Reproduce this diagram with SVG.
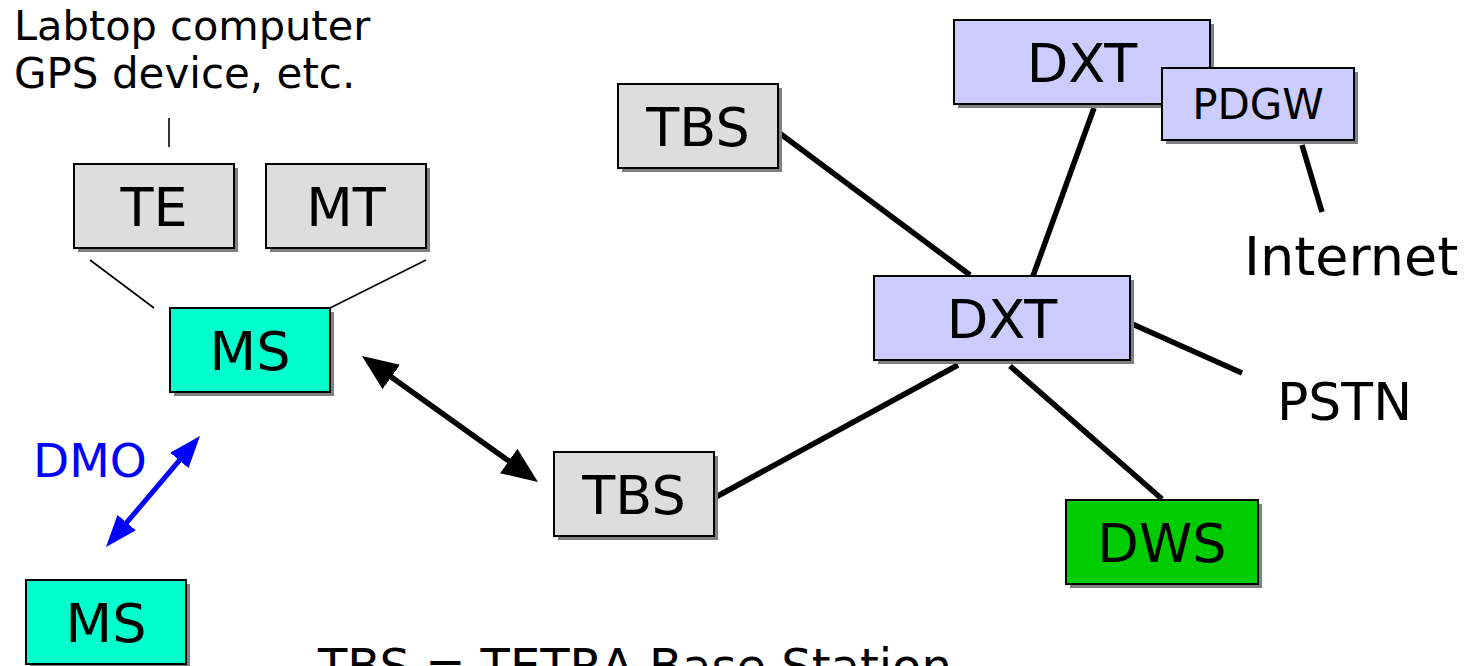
<svg xmlns="http://www.w3.org/2000/svg" width="1474" height="666" viewBox="0 0 1474 666">
  <style>
    text { font-family: "DejaVu Sans", Verdana, sans-serif; fill: #000; }
    .box { stroke: #000; stroke-width: 2; }
    .shadow { fill: #808080; }
    .grey { fill: #DDDDDD; }
    .ms { fill: #00FFCC; }
    .dxt { fill: #CCCCFF; }
    .dws { fill: #00CC00; }
    .lbl { font-size: 54px; text-anchor: middle; }
    .link { stroke: #000; stroke-width: 5.5; fill: none; }
    .thin { stroke: #000; stroke-width: 1.6; fill: none; }
  </style>
  <defs>
    <marker id="headBlack" viewBox="0 0 36 30" refX="6" refY="15" markerWidth="36" markerHeight="30" markerUnits="userSpaceOnUse" orient="auto-start-reverse">
      <path d="M0,0 L36,15 L0,30 z" fill="#000"/>
    </marker>
    <marker id="headBlue" viewBox="0 0 32 24" refX="6" refY="12" markerWidth="32" markerHeight="24" markerUnits="userSpaceOnUse" orient="auto-start-reverse">
      <path d="M0,0 L32,12 L0,24 z" fill="#0000FF"/>
    </marker>
  </defs>
  <rect width="1474" height="666" fill="#fff"/>

  <!-- connectors -->
  <g id="connectors">
    <line class="thin" x1="169" y1="118" x2="169" y2="147" stroke-width="2.2"/>
    <line class="thin" x1="90" y1="260" x2="154" y2="308"/>
    <line class="thin" x1="330" y1="308" x2="426" y2="260"/>
    <line class="link" x1="386.4" y1="373.5" x2="513.6" y2="464.5" marker-start="url(#headBlack)" marker-end="url(#headBlack)"/>
    <line x1="183.2" y1="455.8" x2="122.8" y2="527.2" stroke="#0000FF" stroke-width="5" marker-start="url(#headBlue)" marker-end="url(#headBlue)"/>
    <line class="link" x1="778" y1="132" x2="970" y2="275"/>
    <line class="link" x1="1094" y1="108" x2="1033" y2="276"/>
    <line class="link" x1="1302" y1="145" x2="1322" y2="212"/>
    <line class="link" x1="1130" y1="323" x2="1242" y2="373"/>
    <line class="link" x1="1010" y1="366" x2="1162" y2="499"/>
    <line class="link" x1="958" y1="365" x2="714" y2="498"/>
  </g>

  <!-- free labels -->
  <g id="labels">
    <text x="14" y="40" font-size="41.5">Labtop computer</text>
    <text x="14" y="88" font-size="42">GPS device, etc.</text>
    <text x="1244" y="275" font-size="54">Internet</text>
    <text x="1277" y="420" font-size="52">PSTN</text>
    <text x="33" y="477" font-size="47" style="fill:#0000FF">DMO</text>
    <text x="318" y="683" font-size="48">TBS = TETRA Base Station</text>
  </g>

  <g id="te">
    <rect class="shadow" x="78" y="168" width="160" height="84"/>
    <rect class="box grey" x="74" y="164" width="160" height="84"/>
    <text class="lbl" x="154" y="226">TE</text>
  </g>
  <g id="mt">
    <rect class="shadow" x="270" y="168" width="160" height="84"/>
    <rect class="box grey" x="266" y="164" width="160" height="84"/>
    <text class="lbl" x="346" y="226">MT</text>
  </g>
  <g id="ms-top">
    <rect class="shadow" x="174" y="312" width="160" height="84"/>
    <rect class="box ms" x="170" y="308" width="160" height="84"/>
    <text class="lbl" x="250" y="370">MS</text>
  </g>
  <g id="ms-bottom">
    <rect class="shadow" x="30" y="584" width="160" height="84"/>
    <rect class="box ms" x="26" y="580" width="160" height="84"/>
    <text class="lbl" x="106" y="642">MS</text>
  </g>
  <g id="tbs-top">
    <rect class="shadow" x="622" y="88" width="160" height="84"/>
    <rect class="box grey" x="618" y="84" width="160" height="84"/>
    <text class="lbl" x="698" y="146">TBS</text>
  </g>
  <g id="tbs-bottom">
    <rect class="shadow" x="558" y="456" width="160" height="84"/>
    <rect class="box grey" x="554" y="452" width="160" height="84"/>
    <text class="lbl" x="634" y="514">TBS</text>
  </g>
  <g id="dxt-top">
    <rect class="shadow" x="958" y="24" width="256" height="84"/>
    <rect class="box dxt" x="954" y="20" width="256" height="84"/>
    <text class="lbl" x="1082" y="82">DXT</text>
  </g>
  <g id="pdgw">
    <rect class="shadow" x="1166" y="72" width="192" height="72"/>
    <rect class="box dxt" x="1162" y="68" width="192" height="72"/>
    <text class="lbl" x="1258" y="119" style="font-size:42px">PDGW</text>
  </g>
  <g id="dxt-center">
    <rect class="shadow" x="878" y="280" width="256" height="84"/>
    <rect class="box dxt" x="874" y="276" width="256" height="84"/>
    <text class="lbl" x="1002" y="338">DXT</text>
  </g>
  <g id="dws">
    <rect class="shadow" x="1070" y="504" width="192" height="84"/>
    <rect class="box dws" x="1066" y="500" width="192" height="84"/>
    <text class="lbl" x="1162" y="562">DWS</text>
  </g>
</svg>
